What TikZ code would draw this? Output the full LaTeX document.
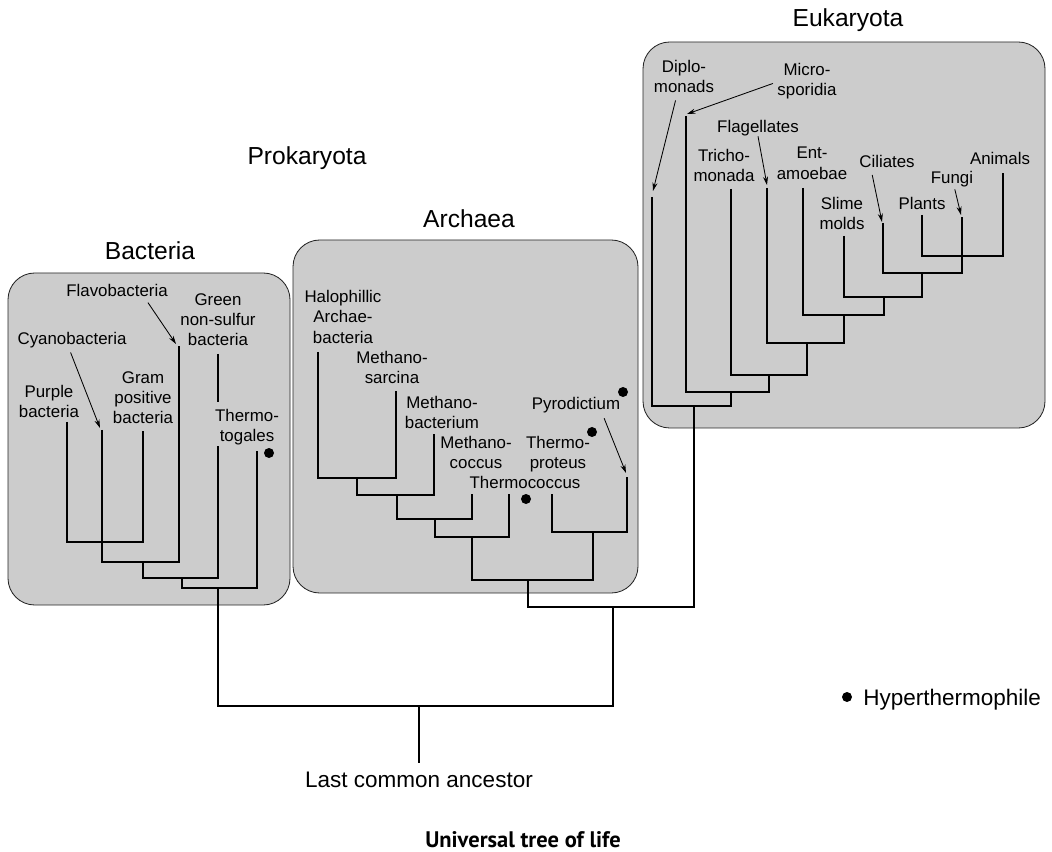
\documentclass[tikz,border=0pt]{standalone}
\usepackage{fontspec}
\setmainfont{Liberation Sans}
\newfontfamily\captionfont{PT Sans}
\usetikzlibrary{arrows.meta}

\begin{document}
\begin{tikzpicture}[x=0.025cm, y=-0.025cm, >={Stealth[length=6pt,width=3.6pt]}]
  \tikzset{
    domainbox/.style={draw=black!85, line width=0.6pt, fill=black!20, rounded corners=19pt},
    branch/.style={line width=2pt},
    taxon/.style={font=\fontsize{12}{14.5}\selectfont, align=center, anchor=north, inner sep=0pt},
    group/.style={font=\fontsize{17.5}{20}\selectfont, anchor=base, inner sep=0pt},
    pointer/.style={->, line width=0.6pt}
  }
  \useasboundingbox (0,0) rectangle (1052,852);

  % domain boxes
  \draw[domainbox] (8,273) rectangle (290,605);
  \draw[domainbox] (293,240) rectangle (638,593);
  \draw[domainbox] (643,42) rectangle (1045,428);

  \node[group] (bactname) at (150,260) {Bacteria};
  \node[group] (prokname) at (307,165) {Prokaryota};
  \node[group] (archname) at (469,228) {Archaea};
  \node[group] (eukname) at (848,27) {Eukaryota};

  % bacteria
  \node[taxon] (flavolbl) at (117,284) {Flavobacteria};
  \node[taxon] (greenlbl) at (218,293) {Green\\non-sulfur\\bacteria};
  \node[taxon] (cyanolbl) at (72,332) {Cyanobacteria};
  \node[taxon] (gramlbl) at (143,371) {Gram\\positive\\bacteria};
  \node[taxon] (purplelbl) at (49,385) {Purple\\bacteria};
  \node[taxon] (togalbl) at (247,409) {Thermo-\\togales};
  \coordinate (flavo) at (176,344);
  \coordinate (cyano) at (100,428);
  \draw[branch] (67,422) -- (67,542) -- (143,542) -- (143,431);
  \draw[branch] (102,430) -- (102,562) -- (179,562) -- (179,346);
  \draw[branch] (143,562) -- (143,578) -- (218,578) -- (218,446);
  \draw[branch] (218,354) -- (218,402);
  \draw[branch] (182,578) -- (182,588) -- (257,588) -- (257,451);
  \draw[pointer] ([xshift=22pt,yshift=-4pt]flavolbl.south) -- (flavo);
  \draw[pointer] ([xshift=-1pt,yshift=-3pt]cyanolbl.south) -- (cyano);
  \fill (269,453) circle (5);

  % archaea
  \node[taxon] (halolbl) at (343,290) {Halophillic\\Archae-\\bacteria};
  \node[taxon] (sarcinalbl) at (392,351) {Methano-\\sarcina};
  \node[taxon] (mbactlbl) at (442,396) {Methano-\\bacterium};
  \node[taxon] (mcoccuslbl) at (476,436) {Methano-\\coccus};
  \node[taxon] (tproteuslbl) at (558,436) {Thermo-\\proteus};
  \node[taxon] (tcoccuslbl) at (525,476) {Thermococcus};
  \node[taxon] (pyrolbl) at (576,397) {Pyrodictium};
  \coordinate (pyro) at (626,473);
  \draw[branch] (318,352) -- (318,478) -- (396,478) -- (396,391);
  \draw[branch] (357,478) -- (357,495) -- (434,495) -- (434,434);
  \draw[branch] (397,495) -- (397,519) -- (472,519) -- (472,494);
  \draw[branch] (435,519) -- (435,537) -- (509,537) -- (509,494);
  \draw[branch] (552,494) -- (552,532) -- (627,532) -- (627,477);
  \draw[branch] (472,537) -- (472,580) -- (593,580) -- (593,532);
  \draw[pointer] ([xshift=20pt,yshift=-3.5pt]pyrolbl.south) -- (pyro);
  \fill (526,499) circle (5);
  \fill (592,432) circle (5);
  \fill (623,392) circle (5);

  % eukaryota
  \node[taxon] (diplolbl) at (684,60) {Diplo-\\monads};
  \node[taxon] (microlbl) at (807,63) {Micro-\\sporidia};
  \node[taxon] (flagellbl) at (758,120) {Flagellates};
  \node[taxon] (trichlbl) at (724,149) {Tricho-\\monada};
  \node[taxon] (entlbl) at (812,147) {Ent-\\amoebae};
  \node[taxon] (cililbl) at (887,155) {Ciliates};
  \node[taxon] (animlbl) at (1000,152) {Animals};
  \node[taxon] (fungilbl) at (952,171) {Fungi};
  \node[taxon] (slimelbl) at (842,197) {Slime\\molds};
  \node[taxon] (plantlbl) at (922,197) {Plants};
  \coordinate (diplo) at (653,191);
  \coordinate (micro) at (687,114);
  \coordinate (flagel) at (767,185);
  \coordinate (cili) at (882,222);
  \coordinate (fungi) at (961,215);
  \draw[branch] (652,197) -- (652,406) -- (731,406) -- (731,392);
  \draw[branch] (686,116) -- (686,392) -- (769,392) -- (769,375);
  \draw[branch] (731,189) -- (731,375) -- (807,375) -- (807,343);
  \draw[branch] (767,188) -- (767,343) -- (844,343) -- (844,315);
  \draw[branch] (803,188) -- (803,315) -- (884,315) -- (884,297);
  \draw[branch] (844,236) -- (844,297) -- (922,297) -- (922,273);
  \draw[branch] (883,223) -- (883,273) -- (962,273) -- (962,217);
  \draw[branch] (922,215) -- (922,256) -- (1003,256) -- (1003,173);
  \draw[pointer] ([xshift=-6pt,yshift=-5pt]diplolbl.south) -- (diplo);
  \draw[pointer] ([xshift=-3pt,yshift=-1.5pt]microlbl.west) -- (micro);
  \draw[pointer] (flagellbl.south) -- (flagel);
  \draw[pointer] ([xshift=-10.5pt,yshift=-5pt]cililbl.south) -- (cili);
  \draw[pointer] ([xshift=2pt,yshift=-1.5pt]fungilbl.south) -- (fungi);

  % joins down to the root
  \node[font=\fontsize{16}{19}\selectfont, anchor=base, inner sep=0pt] (lca) at (419,787) {Last common ancestor};
  \coordinate (root) at (419,706);
  \draw[branch] (528,580) -- (528,607) -- (694,607) -- (694,406);
  \draw[branch] (218,588) -- (218,706) -- (613,706) -- (613,607);
  \draw[branch, shorten >=6pt] (root) -- (root |- lca.north);

  \fill (847,697) circle (5);
  \node[font=\fontsize{16}{19}\selectfont, anchor=base west, inner sep=0pt] (legend) at (863,705) {Hyperthermophile};

  \node[font=\captionfont\bfseries\fontsize{16}{18}\selectfont, anchor=base] (title) at (523,847) {Universal tree of life};
\end{tikzpicture}
\end{document}
